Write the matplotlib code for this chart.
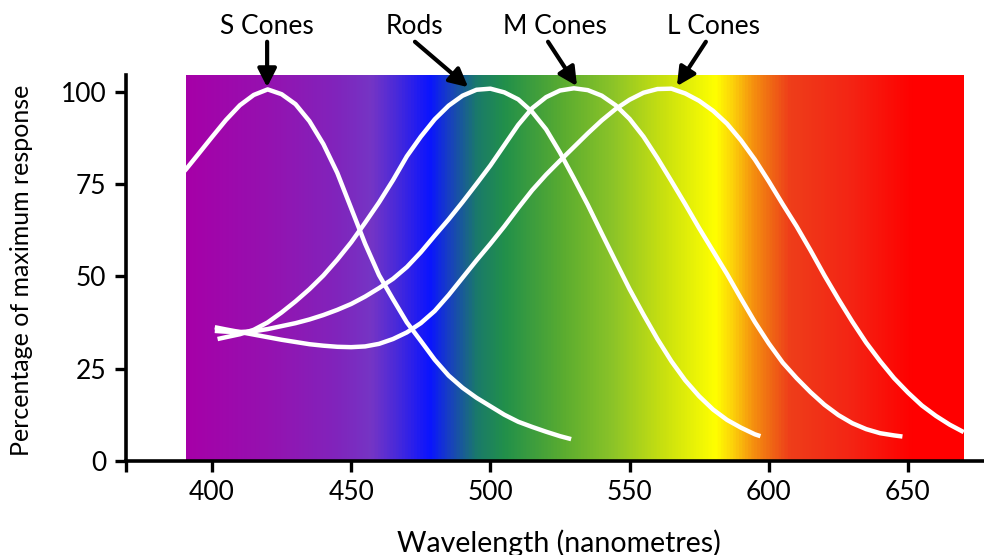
import numpy as np
import matplotlib
matplotlib.use("Agg")
import matplotlib.pyplot as plt
from matplotlib.colors import LinearSegmentedColormap

plt.rcParams['font.family'] = ['Lato', 'DejaVu Sans']

# response curves (wavelength nm, % of max response)
s_nm = [380, 390.7, 395, 400, 405, 410, 415, 420, 425, 430, 435, 440, 445, 450, 455,
        460, 465, 470, 475, 480, 485, 490, 495, 500, 505, 510, 515, 520, 525, 529]
s_val = [70, 79, 83, 87.7, 92.3, 96.3, 99.1, 100.6, 99.3, 96.6, 92, 85.8, 78, 68.4, 58.8,
         50.3, 43.8, 37.5, 32.5, 27.4, 23.1, 19.8, 17.1, 14.8, 12.5, 10.6, 9.2, 7.9, 6.7, 5.9]

rod_nm = [402, 405, 410, 415, 420, 425, 430, 435, 440, 445, 450, 455, 460, 465, 470,
          475, 480, 485, 490, 495, 500, 505, 510, 515, 520, 525, 530, 535, 540, 545,
          550, 555, 560, 565, 570, 575, 580, 585, 590, 595, 597]
rod_val = [33, 33.5, 34.3, 35.5, 37.5, 40.2, 43.2, 46.5, 50.2, 54.5, 59.2, 64.5, 70, 76, 82.5,
           87.8, 92.5, 96.2, 98.9, 100.5, 100.8, 99.8, 97.9, 94.5, 89.8, 83.5, 76.5, 69.3, 61.6, 54,
           46.5, 39.6, 33, 27, 21.8, 17.5, 13.9, 11.1, 9, 7.2, 6.7]

m_nm = [401, 405, 410, 415, 420, 425, 430, 435, 440, 445, 450, 455, 460, 465, 470,
        475, 480, 485, 490, 495, 500, 505, 510, 515, 520, 525, 530, 535, 540, 545,
        550, 555, 560, 565, 570, 575, 580, 585, 590, 595, 600, 605, 610, 615, 620,
        625, 630, 635, 640, 645, 648]
m_val = [35.2, 35, 34.9, 35.1, 35.7, 36.5, 37.3, 38.3, 39.5, 40.9, 42.5, 44.5, 46.8, 49.3, 52.5,
         56.5, 61, 65.4, 70.1, 75, 80, 85.5, 91, 95.5, 98.5, 100.3, 100.9, 100.4, 98.9, 96.3,
         92.6, 87.8, 82, 75.8, 69.5, 63, 56.8, 50.6, 44, 37.6, 31.8, 26.6, 22.4, 18.6, 15.2,
         12.4, 10.2, 8.6, 7.5, 6.9, 6.6]

l_nm = [401, 405, 410, 415, 420, 425, 430, 435, 440, 445, 450, 455, 460, 465, 470,
        475, 480, 485, 490, 495, 500, 505, 510, 515, 520, 525, 530, 535, 540, 545,
        550, 555, 560, 565, 570, 575, 580, 585, 590, 595, 600, 605, 610, 615, 620,
        625, 630, 635, 640, 645, 650, 655, 660, 665, 670]
l_val = [36.2, 35.6, 34.9, 34.2, 33.5, 32.8, 32.2, 31.6, 31.2, 30.9, 30.8, 31, 31.7, 33, 34.8,
         37.3, 40.6, 44.9, 49.6, 54.3, 58.8, 63.5, 68.5, 73.3, 77.5, 81.3, 85, 88.7, 92.2, 95.3,
         97.8, 99.7, 100.7, 100.8, 99.5, 97.5, 94.8, 91.3, 86.8, 81.6, 75.7, 69.5, 63.5, 57, 50.2,
         43.8, 37.7, 32, 27, 22.4, 18.5, 15, 12.2, 9.8, 7.8]

# background spectrum colours (nm, colour)
spec_nm = [390.7, 420, 445, 457, 467, 478, 485, 495, 505, 526, 544, 562, 581, 587, 594.5,
           600.5, 607.5, 630, 652, 669.8]
spec_col = ['#a600a8', '#9512b0', '#8025bc', '#7535c5', '#4428dc', '#0a14ff', '#1840c0',
            '#1a7a6a', '#22904a', '#5aac30', '#8cc428', '#c8e010', '#ffff00', '#fcd20a',
            '#f5900f', '#f06a14', '#ee3e1a', '#f42414', '#ff0000', '#ff0000']

xticks = [400, 450, 500, 550, 600, 650]
yticks = [0, 25, 50, 75, 100]

labels = ['S Cones', 'Rods', 'M Cones', 'L Cones']
label_x = [419.8, 472.6, 523.2, 580]
arrow_from = [(419.8, 113.5), (472.9, 113.5), (520.7, 113.5), (577.4, 113.5)]
arrow_to = [(419.8, 101.2), (492, 101.2), (531.1, 101.5), (567, 101.5)]

fig = plt.figure(figsize=(9.84, 5.55), dpi=100)
ax = fig.add_axes([126 / 984, 94.1 / 555, 858 / 984, 385.9 / 555])

lo, hi = spec_nm[0], spec_nm[-1]
pos = [(v - lo) / (hi - lo) for v in spec_nm]
cmap = LinearSegmentedColormap.from_list('spec', list(zip(pos, spec_col)))
ax.imshow(np.linspace(0, 1, 1200)[None, :], cmap=cmap, aspect='auto',
          extent=[lo, hi, 0, 104.5], interpolation='bilinear', zorder=0)

for xs, ys in [(s_nm, s_val), (rod_nm, rod_val), (m_nm, m_val), (l_nm, l_val)]:
    ax.plot(xs, ys, color='white', lw=3.2, solid_capstyle='butt',
            solid_joinstyle='round', zorder=2)

for name, tx, a0, a1 in zip(labels, label_x, arrow_from, arrow_to):
    ax.text(tx, 117.5, name, ha='center', va='center', fontsize=19,
            clip_on=False)
    ax.annotate('', xy=a1, xytext=a0, annotation_clip=False,
                arrowprops=dict(arrowstyle='-|>,head_length=0.55,head_width=0.28',
                                lw=3, color='black', shrinkA=0, shrinkB=0,
                                mutation_scale=20))

x0 = 400 - (212 - 126) / 2.784
x1 = 400 + (984 - 212) / 2.784
ax.set_xlim(x0, x1)
ax.set_ylim(0, 104.5)
ax.set_xticks([x0] + xticks)
ax.set_xticklabels([''] + [str(v) for v in xticks])
ax.set_yticks(yticks)

for side in ['top', 'right']:
    ax.spines[side].set_visible(False)
for side in ['left', 'bottom']:
    ax.spines[side].set_linewidth(2.6)
ax.tick_params(axis='both', length=8, width=2.4, labelsize=19, pad=6)

ax.set_xlabel('Wavelength (nanometres)', fontsize=20.5, va='center')
ax.xaxis.set_label_coords((559 - 126) / 858, -(543 - 460.9) / 385.9)
ax.set_ylabel('Percentage of maximum response', fontsize=18, va='center')
ax.yaxis.set_label_coords((22 - 126) / 858, (460.9 - 270) / 385.9)

fig.savefig('out.png', dpi=100)
